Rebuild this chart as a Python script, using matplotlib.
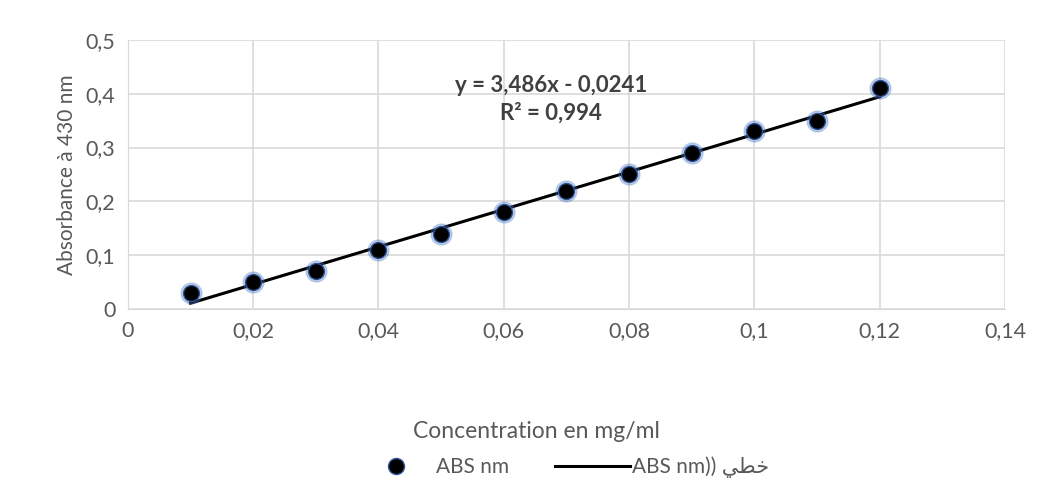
import numpy as np
import matplotlib.pyplot as plt
import matplotlib as mpl

mpl.rcParams['font.family'] = ['Lato', 'DejaVu Sans']
mpl.rcParams['font.size'] = 15

# data
conc = [0.01, 0.02, 0.03, 0.04, 0.05, 0.06, 0.07, 0.08, 0.09, 0.10, 0.11, 0.12]
absb = [0.03, 0.05, 0.07, 0.11, 0.14, 0.18, 0.22, 0.25, 0.29, 0.33, 0.35, 0.41]
slope = 3.486
intercept = -0.0241
r2 = 0.994
xticks = [0, 0.02, 0.04, 0.06, 0.08, 0.1, 0.12, 0.14]
yticks = [0, 0.1, 0.2, 0.3, 0.4, 0.5]

gray = '#595959'

fig = plt.figure(figsize=(10.48, 4.92), dpi=100)
ax = fig.add_axes([0.122, 0.372, 0.837, 0.547])

xs = np.array([conc[0], conc[-1]])
ax.plot(xs, slope * xs + intercept, color='black', lw=2.2, zorder=3,
        label='ABS nm)) \ufef2\ufec4\ufea7')
# glow under markers
ax.plot(conc, absb, 'o', color='#4472C4', ms=15, alpha=0.3, zorder=4)
ax.plot(conc, absb, 'o', color='black', mec='#2F5597', mew=1.0, ms=11.5, zorder=5,
        label='ABS nm')

ax.set_xlim(0, 0.14)
ax.set_ylim(0, 0.5)
ax.set_xticks(xticks)
ax.set_yticks(yticks)
ax.set_xticklabels([f'{t:g}'.replace('.', ',') for t in xticks])
ax.set_yticklabels([f'{t:g}'.replace('.', ',') for t in yticks])
ax.tick_params(length=0, colors=gray, labelsize=15.5, pad=9)
ax.grid(True, color='#d9d9d9', lw=1.2)
ax.set_axisbelow(True)
for s in ax.spines.values():
    s.set_visible(False)
ax.spines['left'].set_visible(True)
ax.spines['left'].set_color('#d9d9d9')
ax.spines['bottom'].set_visible(True)
ax.spines['bottom'].set_color('#d9d9d9')

ax.set_ylabel('Absorbance à 430 nm', color=gray, fontsize=15, labelpad=6)
fig.text(0.512, 0.11, 'Concentration en mg/ml', color=gray, fontsize=16.5, ha='center')

ax.text(0.0675, 0.416, f'y = {slope:.3f}x - {abs(intercept):.4f}'.replace('.', ','),
        ha='center', va='center', fontsize=16, fontweight='bold', color='#404040')
ax.text(0.0675, 0.364, f'R² = {r2:.3f}'.replace('.', ','),
        ha='center', va='center', fontsize=16, fontweight='bold', color='#404040')

h, l = ax.get_legend_handles_labels()
leg = fig.legend([h[1], h[0]], [l[1], l[0]], loc='center', bbox_to_anchor=(0.538, 0.05),
                 ncol=2, frameon=False, handlelength=3.6, handletextpad=0.1,
                 columnspacing=2.2, fontsize=15)
for t in leg.get_texts():
    t.set_color(gray)

fig.savefig('out.png', dpi=100)
